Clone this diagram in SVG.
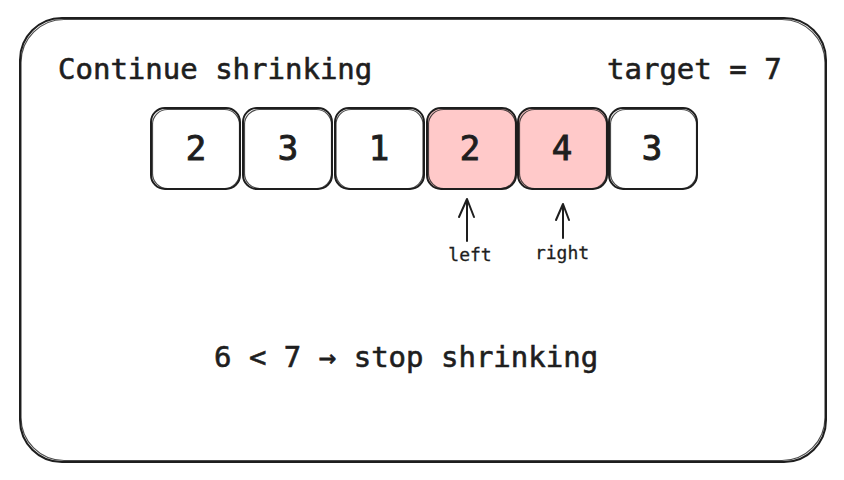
<svg xmlns="http://www.w3.org/2000/svg" width="844" height="480" viewBox="0 0 844 480">
<style>
.box{fill:#ffffff;stroke:#1e1e1e;stroke-width:2}
.hl{fill:#ffc9c9;stroke:#1e1e1e;stroke-width:2}
.sk{fill:none;stroke:#1e1e1e;stroke-width:1.2;opacity:0.8}
.num{font-family:"DejaVu Sans Mono","Liberation Mono",monospace;font-size:34px;fill:#1e1e1e;stroke:#1e1e1e;stroke-width:1;text-anchor:middle}
.t{font-family:"DejaVu Sans Mono","Liberation Mono",monospace;font-size:29px;fill:#1e1e1e;stroke:#1e1e1e;stroke-width:0.6}
.lbl{font-family:"DejaVu Sans Mono","Liberation Mono",monospace;font-size:18px;fill:#1e1e1e;stroke:#1e1e1e;stroke-width:0.3;text-anchor:middle}
.arr{fill:none;stroke:#1e1e1e;stroke-width:2;stroke-linecap:round;stroke-linejoin:round}
</style>
<rect width="844" height="480" fill="#ffffff"/>
<g id="frame">
<rect x="20" y="18" width="806" height="444" rx="42" fill="none" stroke="#1e1e1e" stroke-width="2"/>
<rect x="21" y="19.5" width="804" height="441" rx="43" class="sk"/>
</g>
<g id="title"><text class="t" x="58" y="79">Continue shrinking</text></g>
<g id="target"><text class="t" x="607" y="79">target = 7</text></g>
<g id="n0"><rect class="box" x="151" y="108" width="89" height="81" rx="14"/><rect class="sk" x="152.5" y="109.5" width="87" height="79" rx="15"/><text class="num" x="196" y="160">2</text></g>
<g id="n1"><rect class="box" x="243" y="108" width="89" height="81" rx="14"/><rect class="sk" x="244.5" y="109.5" width="87" height="79" rx="15"/><text class="num" x="288" y="160">3</text></g>
<g id="n2"><rect class="box" x="335" y="108" width="89" height="81" rx="14"/><rect class="sk" x="336" y="109.5" width="87" height="79" rx="15"/><text class="num" x="379" y="160">1</text></g>
<g id="n3"><rect class="hl" x="427" y="108" width="89" height="81" rx="14"/><rect class="sk" x="428.5" y="109.5" width="87" height="79" rx="15"/><text class="num" x="470" y="160">2</text></g>
<g id="n4"><rect class="hl" x="518" y="108" width="89" height="81" rx="14"/><rect class="sk" x="519.5" y="109.5" width="87" height="79" rx="15"/><text class="num" x="562" y="160">4</text></g>
<g id="n5"><rect class="box" x="609" y="108" width="88" height="81" rx="14"/><rect class="sk" x="610.5" y="109.5" width="86" height="79" rx="15"/><text class="num" x="652" y="160">3</text></g>
<g id="connectors">
<path class="arr" d="M467 241 L467 199 M459 217 L467 199 L474 217"/>
<path class="arr" d="M563 238 L563 204 M556 220 L563 204 L569 220"/>
</g>
<g id="lbl-left"><text class="lbl" x="470" y="261">left</text></g>
<g id="lbl-right"><text class="lbl" x="562" y="259">right</text></g>
<g id="result"><text class="t" x="214" y="367">6 &lt; 7 → stop shrinking</text></g>
</svg>
